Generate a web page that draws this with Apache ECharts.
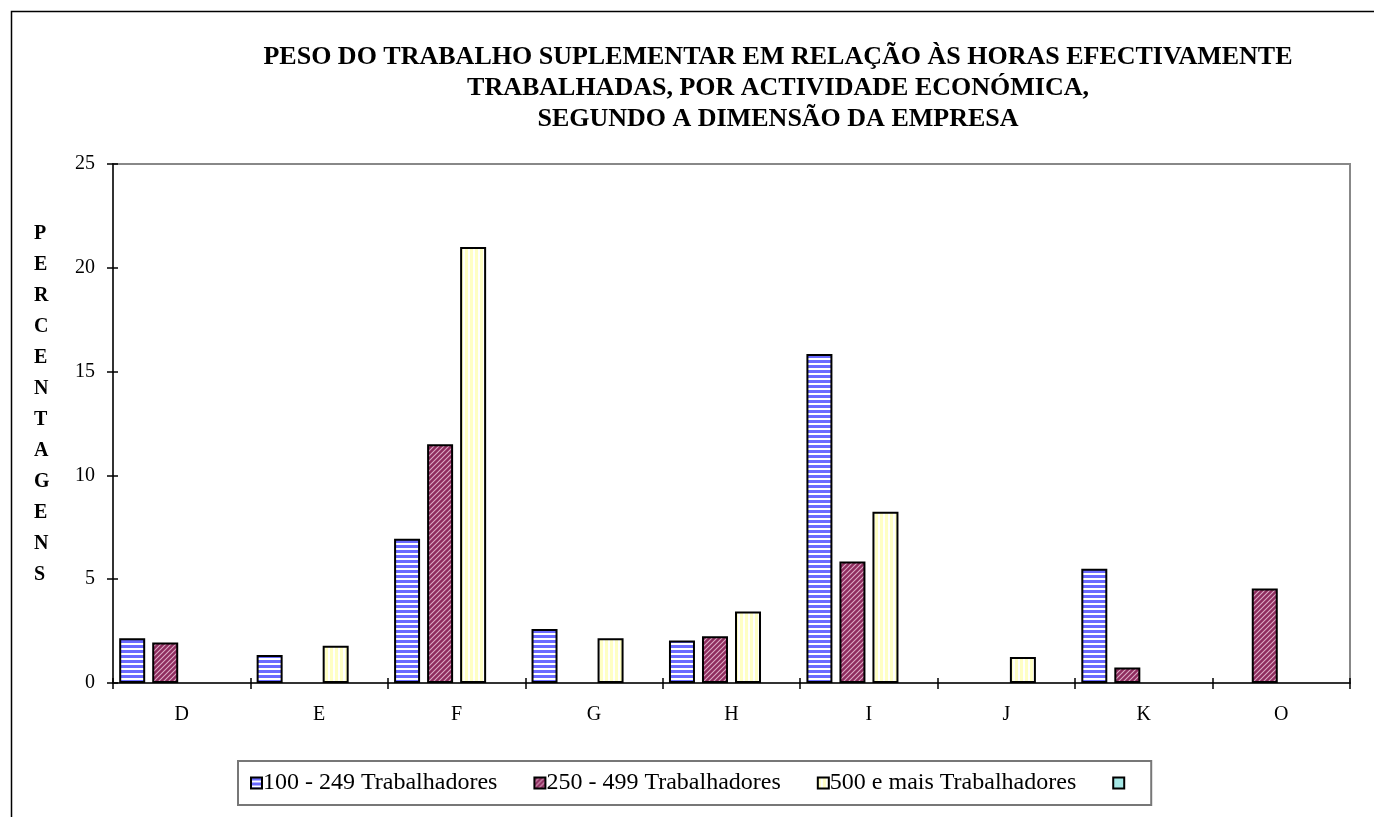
<!DOCTYPE html>
<html>
<head>
<meta charset="utf-8">
<script src="https://cdn.jsdelivr.net/npm/echarts@6/dist/echarts.min.js"></script>
<style>
  html, body { margin: 0; padding: 0; background: #fff; }
  #main { width: 1374px; height: 817px; }
</style>
</head>
<body>
<div id="main"></div>
<script type="text/javascript">
var categories = ['D', 'E', 'F', 'G', 'H', 'I', 'J', 'K', 'O'];
var seriesNames = ['100 - 249 Trabalhadores', '250 - 499 Trabalhadores', '500 e mais Trabalhadores', ' '];
var serie100 = [2.15, 1.35, 6.95, 2.6, 2.05, 15.85, null, 5.5, null];
var serie250 = [1.95, null, 11.5, null, 2.25, 5.85, null, 0.75, 4.55];
var serie500 = [null, 1.8, 21.0, 2.15, 3.45, 8.25, 1.25, null, null];
var serieVazia = [null, null, null, null, null, null, null, null, null];
var yTicks = [0, 5, 10, 15, 20, 25];

// padroes de preenchimento (riscas)
function riscas(tipo, fundo, linha) {
    var n = 5;
    var c = document.createElement('canvas');
    c.width = n; c.height = n;
    var g = c.getContext('2d');
    g.fillStyle = fundo;
    g.fillRect(0, 0, n, n);
    g.fillStyle = linha;
    g.strokeStyle = linha;
    if (tipo == 'h') {
        g.fillRect(0, 3, n, 2);
    } else if (tipo == 'v') {
        g.fillRect(3, 0, 2, n);
    } else {
        g.lineWidth = 1.1;
        g.beginPath();
        g.moveTo(-1, n + 1); g.lineTo(n + 1, -1);
        g.moveTo(-1, 1); g.lineTo(1, -1);
        g.moveTo(n - 1, n + 1); g.lineTo(n + 1, n - 1);
        g.stroke();
    }
    return { image: c, repeat: 'repeat' };
}

var cores = [
    riscas('h', '#6a6aff', '#ffffff'),
    riscas('d', '#8e2c5e', '#dcaac6'),
    riscas('v', '#ffffc4', '#ffffff'),
    '#a6e8e6'
];
var dados = [serie100, serie250, serie500, serieVazia];

var series = [];
for (var i = 0; i < seriesNames.length; i++) {
    series.push({
        name: seriesNames[i],
        type: 'bar',
        data: dados[i],
        barWidth: 26,
        barGap: '27%',
        itemStyle: {
            color: cores[i],
            borderColor: '#000',
            borderWidth: 2
        }
    });
}

var letras = 'PERCENTAGENS'.split('').join('\n');
var fonte = 'Liberation Serif';

myChart1 = echarts.init(document.getElementById('main'));
myChart1.setOption({
    animation: false,
    backgroundColor: '#fff',
    title: {
        text: 'PESO DO TRABALHO SUPLEMENTAR EM RELAÇÃO ÀS HORAS EFECTIVAMENTE\nTRABALHADAS, POR ACTIVIDADE ECONÓMICA,\nSEGUNDO A DIMENSÃO DA EMPRESA',
        left: 773,
        top: 37,
        textAlign: 'center',
        textStyle: {
            fontFamily: fonte,
            fontWeight: 'bold',
            fontSize: 26,
            lineHeight: 31,
            color: '#000'
        }
    },
    graphic: [
        {
            type: 'rect',
            shape: { x: 11.5, y: 11.5, width: 1380, height: 820 },
            style: { fill: 'none', stroke: '#000', lineWidth: 1.5 },
            silent: true
        },
        {
            type: 'rect',
            shape: { x: 113, y: 164, width: 1237, height: 519 },
            style: { fill: 'none', stroke: '#888', lineWidth: 2 },
            silent: true,
            z: 0
        },
        {
            type: 'text',
            left: 34,
            top: 218,
            style: {
                text: letras,
                fontFamily: fonte,
                fontWeight: 'bold',
                fontSize: 20,
                lineHeight: 31,
                align: 'center',
                fill: '#000'
            }
        }
    ],
    legend: {
        data: seriesNames,
        left: 238,
        top: 761,
        padding: [10, 20, 10, 12],
        itemGap: 36,
        itemWidth: 11,
        itemHeight: 11,
        borderColor: '#777',
        borderWidth: 2,
        borderRadius: 0,
        icon: 'rect',
        textStyle: {
            fontFamily: fonte,
            fontSize: 24,
            color: '#000',
            padding: [0, 0, 0, -4]
        },
        itemStyle: { borderColor: '#000', borderWidth: 2 }
    },
    grid: {
        left: 113,
        right: 24,
        top: 164,
        bottom: 134,
        containLabel: false
    },
    xAxis: [
        {
            type: 'category',
            data: categories,
            axisLine: { lineStyle: { color: '#333', width: 2 } },
            axisTick: { show: true, length: 6, lineStyle: { color: '#000', width: 1.5 } },
            axisLabel: { fontFamily: fonte, fontSize: 20, color: '#000', margin: 22 },
            splitLine: { show: false }
        },
        {
            // marcas do lado de dentro
            type: 'category',
            data: categories,
            position: 'bottom',
            offset: 0,
            axisLine: { show: false },
            axisTick: { show: true, inside: true, length: 5, lineStyle: { color: '#000', width: 1.5 } },
            axisLabel: { show: false },
            splitLine: { show: false }
        }
    ],
    yAxis: [
        {
            type: 'value',
            min: yTicks[0],
            max: yTicks[yTicks.length - 1],
            interval: 5,
            axisLine: { show: true, lineStyle: { color: '#333', width: 2 } },
            axisTick: { show: true, length: 6, lineStyle: { color: '#000', width: 1.5 } },
            axisLabel: { fontFamily: fonte, fontSize: 20, color: '#000', margin: 18 },
            splitLine: { show: false }
        },
        {
            type: 'value',
            position: 'left',
            offset: 0,
            min: yTicks[0],
            max: yTicks[yTicks.length - 1],
            interval: 5,
            axisLine: { show: false },
            axisTick: { show: true, inside: true, length: 5, lineStyle: { color: '#000', width: 1.5 } },
            axisLabel: { show: false },
            splitLine: { show: false }
        }
    ],
    series: series
});
</script>
</body>
</html>
